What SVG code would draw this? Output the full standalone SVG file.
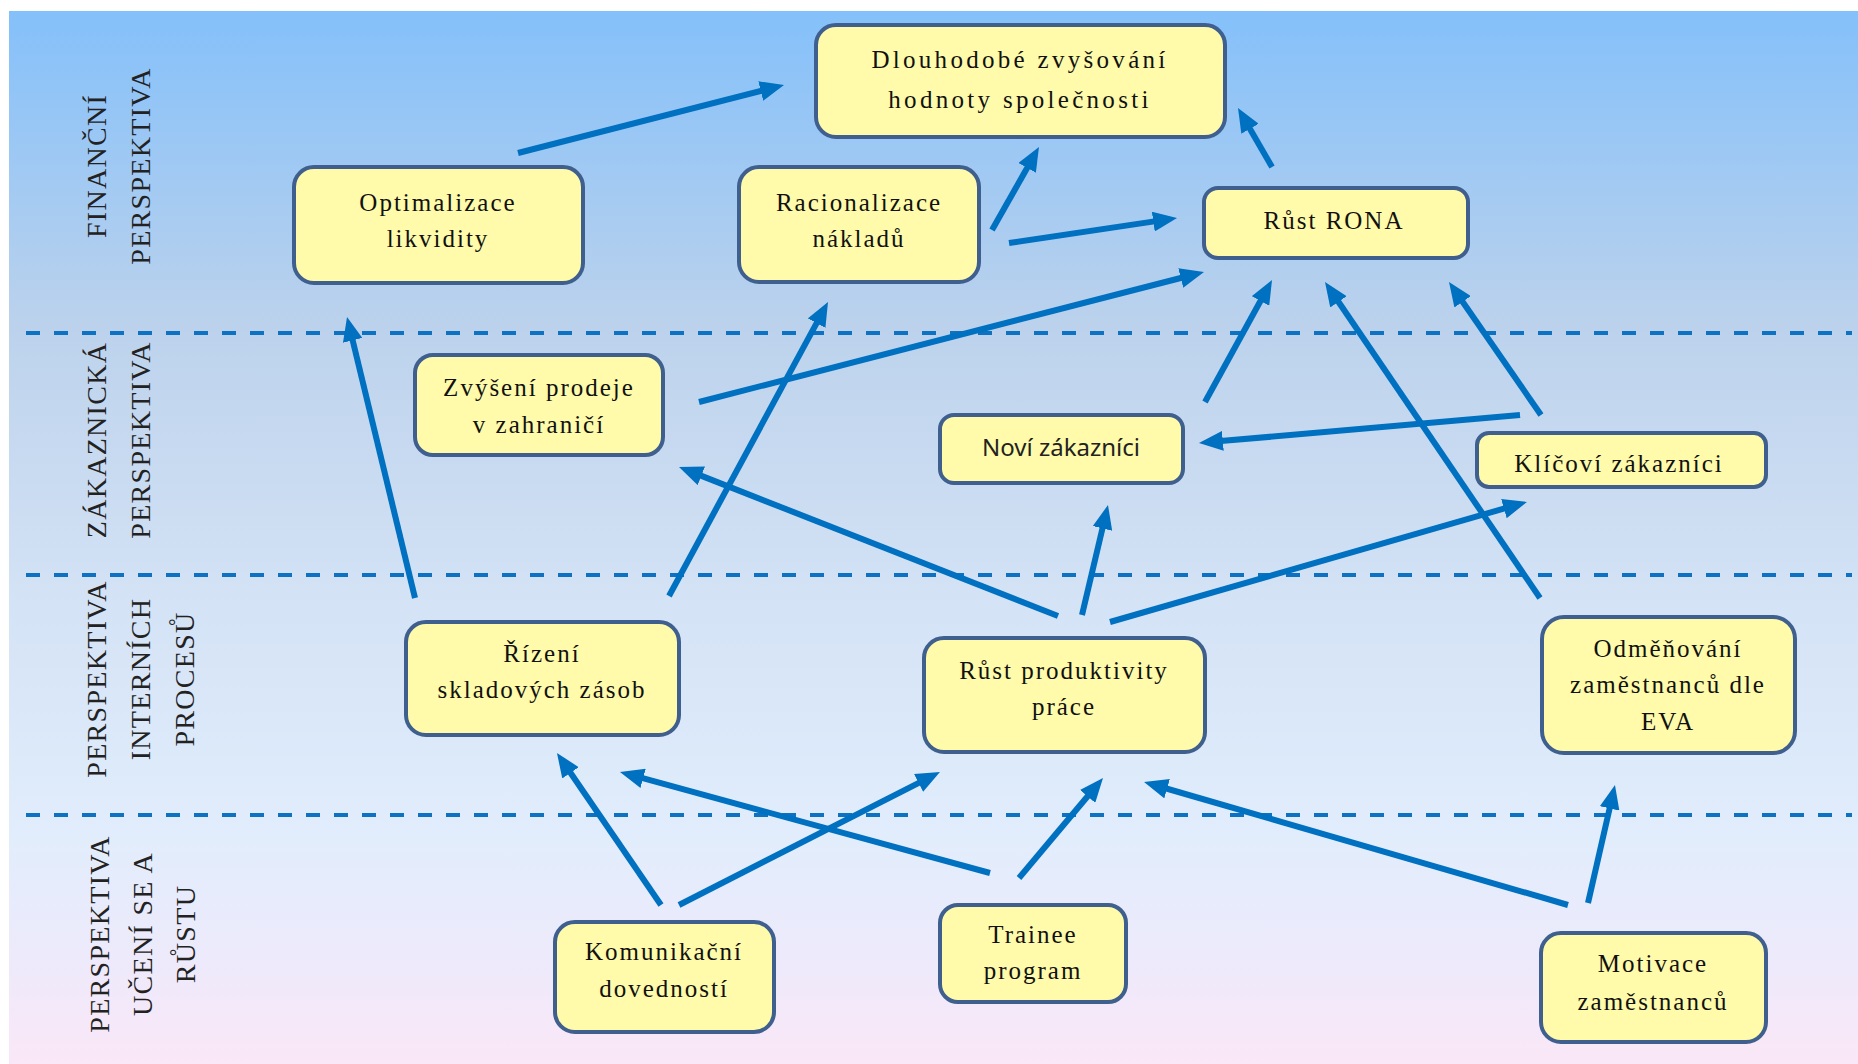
<svg xmlns="http://www.w3.org/2000/svg" width="1858" height="1064" viewBox="0 0 1858 1064">
  <defs>
    <linearGradient id="bg" x1="0" y1="0" x2="0" y2="1">
      <stop offset="0" stop-color="#84C0FA"/>
      <stop offset="0.3" stop-color="#BCD2EC"/>
      <stop offset="0.55" stop-color="#D3E2F5"/>
      <stop offset="0.78" stop-color="#E1EDFC"/>
      <stop offset="0.9" stop-color="#EDEAFB"/>
      <stop offset="1" stop-color="#FAE7F7"/>
    </linearGradient>
    <marker id="head" markerUnits="userSpaceOnUse" markerWidth="24" markerHeight="20" refX="8" refY="10" orient="auto">
      <path d="M0,0 L24,10 L0,20 z" fill="#0070C0"/>
    </marker>
  </defs>
  <style>
    .box { fill: #FFFBAA; stroke: #3F5F8F; stroke-width: 4; }
    .t { font-family: "Liberation Serif", "DejaVu Serif", serif; font-size: 25px; letter-spacing: 2px; fill: #111; text-anchor: middle; }
    .wide { letter-spacing: 3.3px; }
    .ts { font-family: "Noto Sans", "Liberation Sans", sans-serif; font-size: 24px; fill: #222; text-anchor: middle; }
    .lane { font-family: "Liberation Serif", "DejaVu Serif", serif; font-size: 28px; letter-spacing: 1.3px; fill: #222; text-anchor: middle; }
    .sep { stroke: #0E72C2; stroke-width: 4; stroke-dasharray: 14 14; fill: none; }
    .arr { stroke: #0070C0; stroke-width: 6; fill: none; marker-end: url(#head); }
  </style>

  <!-- page and background panel -->
  <rect x="0" y="0" width="1858" height="1064" fill="#FFFFFF"/>
  <rect x="9" y="11" width="1849" height="1053" fill="url(#bg)"/>

  <!-- lane separators -->
  <g id="separators">
    <line class="sep" x1="26" y1="333" x2="1852" y2="333"/>
    <line class="sep" x1="26" y1="575" x2="1852" y2="575"/>
    <line class="sep" x1="26" y1="815" x2="1852" y2="815"/>
  </g>

  <!-- lane titles -->
  <g id="lane-titles">
    <text class="lane" transform="translate(106,166) rotate(-90)">FINANČNÍ</text>
    <text class="lane" transform="translate(150,166) rotate(-90)">PERSPEKTIVA</text>
    <text class="lane" transform="translate(106,440) rotate(-90)">ZÁKAZNICKÁ</text>
    <text class="lane" transform="translate(150,440) rotate(-90)">PERSPEKTIVA</text>
    <text class="lane" transform="translate(106,679) rotate(-90)">PERSPEKTIVA</text>
    <text class="lane" transform="translate(150,679) rotate(-90)">INTERNÍCH</text>
    <text class="lane" transform="translate(194,679) rotate(-90)">PROCESŮ</text>
    <text class="lane" transform="translate(109,934) rotate(-90)">PERSPEKTIVA</text>
    <text class="lane" transform="translate(152,934) rotate(-90)">UČENÍ SE A</text>
    <text class="lane" transform="translate(195,934) rotate(-90)">RŮSTU</text>
  </g>

  <!-- connectors -->
  <g id="connectors">
    <line class="arr" x1="518" y1="153" x2="768.5" y2="89"/>
    <line class="arr" x1="992" y1="230" x2="1031.1" y2="160.9"/>
    <line class="arr" x1="1009" y1="243" x2="1161.2" y2="220.4"/>
    <line class="arr" x1="1272" y1="167" x2="1246" y2="121.9"/>
    <line class="arr" x1="699" y1="402" x2="1188.5" y2="276"/>
    <line class="arr" x1="1205" y1="402" x2="1264.3" y2="294"/>
    <line class="arr" x1="1540" y1="598" x2="1334" y2="295.2"/>
    <line class="arr" x1="1541" y1="415" x2="1458.1" y2="295.2"/>
    <line class="arr" x1="1520" y1="415" x2="1214.9" y2="441.6"/>
    <line class="arr" x1="415" y1="598" x2="350.8" y2="332.6"/>
    <line class="arr" x1="669" y1="596" x2="820.4" y2="316.1"/>
    <line class="arr" x1="1058" y1="616" x2="693.9" y2="472.9"/>
    <line class="arr" x1="1082" y1="615" x2="1104.3" y2="520.6"/>
    <line class="arr" x1="1110" y1="622" x2="1511.6" y2="506.4"/>
    <line class="arr" x1="661" y1="905" x2="566" y2="766.2"/>
    <line class="arr" x1="679" y1="905" x2="925.7" y2="779.3"/>
    <line class="arr" x1="990" y1="873" x2="635.4" y2="776.2"/>
    <line class="arr" x1="1019" y1="878" x2="1092.7" y2="790.3"/>
    <line class="arr" x1="1568" y1="905" x2="1159.4" y2="786.5"/>
    <line class="arr" x1="1588" y1="903" x2="1611.4" y2="800.6"/>
  </g>

  <!-- nodes -->
  <g id="n-hodnota">
    <rect class="box" x="816" y="25" width="409" height="112" rx="20"/>
    <text class="t wide" x="1020" y="68">Dlouhodobé zvyšování</text>
    <text class="t wide" x="1020" y="108">hodnoty společnosti</text>
  </g>
  <g id="n-likvidita">
    <rect class="box" x="294" y="167" width="289" height="116" rx="20"/>
    <text class="t" x="438" y="211">Optimalizace</text>
    <text class="t" x="438" y="247">likvidity</text>
  </g>
  <g id="n-naklady">
    <rect class="box" x="739" y="167" width="240" height="115" rx="20"/>
    <text class="t" x="859" y="211">Racionalizace</text>
    <text class="t" x="859" y="247">nákladů</text>
  </g>
  <g id="n-rona">
    <rect class="box" x="1204" y="188" width="264" height="70" rx="14"/>
    <text class="t" x="1334" y="229">Růst RONA</text>
  </g>
  <g id="n-prodej">
    <rect class="box" x="415" y="355" width="248" height="100" rx="18"/>
    <text class="t" x="539" y="396">Zvýšení prodeje</text>
    <text class="t" x="539" y="433">v zahraničí</text>
  </g>
  <g id="n-novi">
    <rect class="box" x="940" y="415" width="243" height="68" rx="14"/>
    <text class="ts" x="1061" y="456">Noví zákazníci</text>
  </g>
  <g id="n-klicovi">
    <rect class="box" x="1477" y="433" width="289" height="54" rx="12"/>
    <text class="t" x="1619" y="472">Klíčoví zákazníci</text>
  </g>
  <g id="n-zasoby">
    <rect class="box" x="406" y="622" width="273" height="113" rx="20"/>
    <text class="t" x="542" y="662">Řízení</text>
    <text class="t" x="542" y="698">skladových zásob</text>
  </g>
  <g id="n-produktivita">
    <rect class="box" x="924" y="638" width="281" height="114" rx="20"/>
    <text class="t" x="1064" y="679">Růst produktivity</text>
    <text class="t" x="1064" y="715">práce</text>
  </g>
  <g id="n-odmenovani">
    <rect class="box" x="1542" y="617" width="253" height="136" rx="22"/>
    <text class="t" x="1668" y="657">Odměňování</text>
    <text class="t" x="1668" y="693">zaměstnanců dle</text>
    <text class="t" x="1668" y="730">EVA</text>
  </g>
  <g id="n-komunikace">
    <rect class="box" x="555" y="922" width="219" height="110" rx="20"/>
    <text class="t" x="664" y="960">Komunikační</text>
    <text class="t" x="664" y="997">dovedností</text>
  </g>
  <g id="n-trainee">
    <rect class="box" x="940" y="905" width="186" height="97" rx="18"/>
    <text class="t" x="1033" y="943">Trainee</text>
    <text class="t" x="1033" y="979">program</text>
  </g>
  <g id="n-motivace">
    <rect class="box" x="1541" y="933" width="225" height="109" rx="20"/>
    <text class="t" x="1653" y="972">Motivace</text>
    <text class="t" x="1653" y="1010">zaměstnanců</text>
  </g>
</svg>
